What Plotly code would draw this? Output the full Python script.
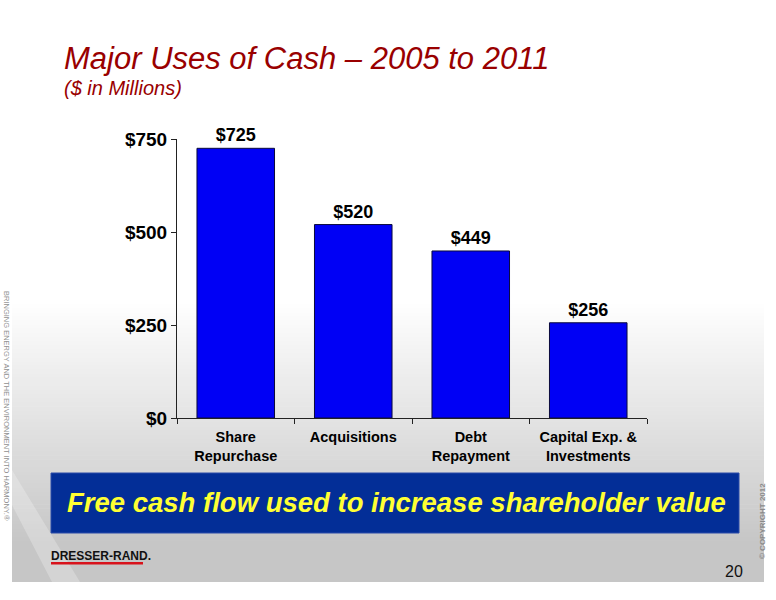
import plotly.graph_objects as go

categories = ["Share<br>Repurchase", "Acquisitions", "Debt<br>Repayment", "Capital Exp. &<br>Investments"]
values = [725, 520, 449, 256]
y_ticks = [0, 250, 500, 750]
y_tick_labels = ["$0", "$250", "$500", "$750"]

W, H = 776, 600
L, R, T, B = 177, 647, 139, 418  # plot area in pixels


def px(x):
    return (x - L) / (R - L)


def py(y):
    return (B - y) / (B - T)


FONT = "Liberation Sans, Arial, sans-serif"

fig = go.Figure(
    go.Bar(
        x=categories,
        y=values,
        marker=dict(color="#0000F5", line=dict(color="#0A0A3C", width=1)),
        width=0.66,
        texttemplate="$%{y}",
        textposition="outside",
        textfont=dict(family=FONT, size=18, color="black", weight="bold"),
        cliponaxis=False,
        hoverinfo="skip",
    )
)

shapes = []
# slide background gradient (white -> gray)
y0g, y1g = 300, 545
n = 60
for i in range(n):
    ya = y0g + (y1g - y0g) * i / n
    yb = y0g + (y1g - y0g) * (i + 1) / n + 0.6
    t = (i + 0.5) / n
    c = int(round(255 - (255 - 198) * t))
    shapes.append(dict(type="rect", xref="paper", yref="paper", x0=px(12), x1=px(764),
                       y0=py(yb), y1=py(ya), fillcolor=f"rgb({c},{c},{c})",
                       line=dict(width=0), layer="below"))
shapes.append(dict(type="rect", xref="paper", yref="paper", x0=px(12), x1=px(764),
                   y0=py(582), y1=py(545), fillcolor="rgb(198,198,198)",
                   line=dict(width=0), layer="below"))
# light diagonal stripe bottom-left
shapes.append(dict(type="path", xref="paper", yref="paper",
                   path=f"M {px(12)} {py(505)} L {px(52)} {py(582)} L {px(80)} {py(582)} L {px(12)} {py(470)} Z",
                   fillcolor="rgba(255,255,255,0.25)", line=dict(width=0), layer="below"))
# blue banner
shapes.append(dict(type="rect", xref="paper", yref="paper", x0=px(51), x1=px(739),
                   y0=py(533), y1=py(473), fillcolor="#032E97",
                   line=dict(color="#2A4AA8", width=1), layer="below"))
# red underline of logo
shapes.append(dict(type="rect", xref="paper", yref="paper", x0=px(51), x1=px(143),
                   y0=py(564.5), y1=py(562), fillcolor="#D8121B",
                   line=dict(width=0), layer="below"))

annotations = [
    dict(text="Major Uses of Cash – 2005 to 2011", x=px(62), y=py(58), xref="paper", yref="paper",
         xanchor="left", yanchor="middle", showarrow=False,
         font=dict(family=FONT, size=31, color="#990000", style="italic")),
    dict(text="($ in Millions)", x=px(62), y=py(88), xref="paper", yref="paper",
         xanchor="left", yanchor="middle", showarrow=False,
         font=dict(family=FONT, size=20, color="#990000", style="italic")),
    dict(text="Free cash flow used to increase shareholder value", x=px(396), y=py(503),
         xref="paper", yref="paper", xanchor="center", yanchor="middle", showarrow=False,
         font=dict(family=FONT, size=27.5, color="#FFFF33", weight="bold", style="italic")),
    dict(text="DRESSER-RAND.", x=px(49), y=py(556), xref="paper", yref="paper",
         xanchor="left", yanchor="middle", showarrow=False,
         font=dict(family=FONT, size=12, color="#111111", weight="bold")),
    dict(text="20", x=px(734), y=py(571), xref="paper", yref="paper",
         xanchor="center", yanchor="middle", showarrow=False,
         font=dict(family=FONT, size=16, color="#111111")),
    dict(text="BRINGING ENERGY AND THE ENVIRONMENT INTO HARMONY.®", x=px(7), y=py(406),
         xref="paper", yref="paper", xanchor="center", yanchor="middle", showarrow=False,
         textangle=90, font=dict(family=FONT, size=7.5, color="#909090")),
    dict(text="© COPYRIGHT 2012", x=px(762), y=py(521), xref="paper", yref="paper",
         xanchor="center", yanchor="middle", showarrow=False,
         textangle=-90, font=dict(family=FONT, size=8, color="#8A8A8A", weight="bold")),
]

fig.update_layout(
    width=W, height=H,
    margin=dict(l=L, r=W - R, t=T, b=H - B, pad=0),
    paper_bgcolor="white",
    plot_bgcolor="rgba(0,0,0,0)",
    showlegend=False,
    shapes=shapes,
    annotations=annotations,
    bargap=0.34,
    xaxis=dict(
        showline=True, linecolor="#222222", linewidth=1,
        ticks="outside", ticklen=5, tickcolor="#222222", tickson="boundaries",
        ticklabelstandoff=6,
        tickfont=dict(family=FONT, size=14.5, color="black", weight="bold"),
        showgrid=False, zeroline=False, fixedrange=True,
    ),
    yaxis=dict(
        range=[0, 750], tickvals=y_ticks, ticktext=y_tick_labels,
        showline=True, linecolor="#222222", linewidth=1,
        ticks="outside", ticklen=5, tickcolor="#222222",
        tickfont=dict(family=FONT, size=19, color="black", weight="bold"),
        showgrid=False, zeroline=False, fixedrange=True,
    ),
)

fig.write_html("out.html", config={"displayModeBar": False},
               post_script="document.body.style.margin='0px';")
